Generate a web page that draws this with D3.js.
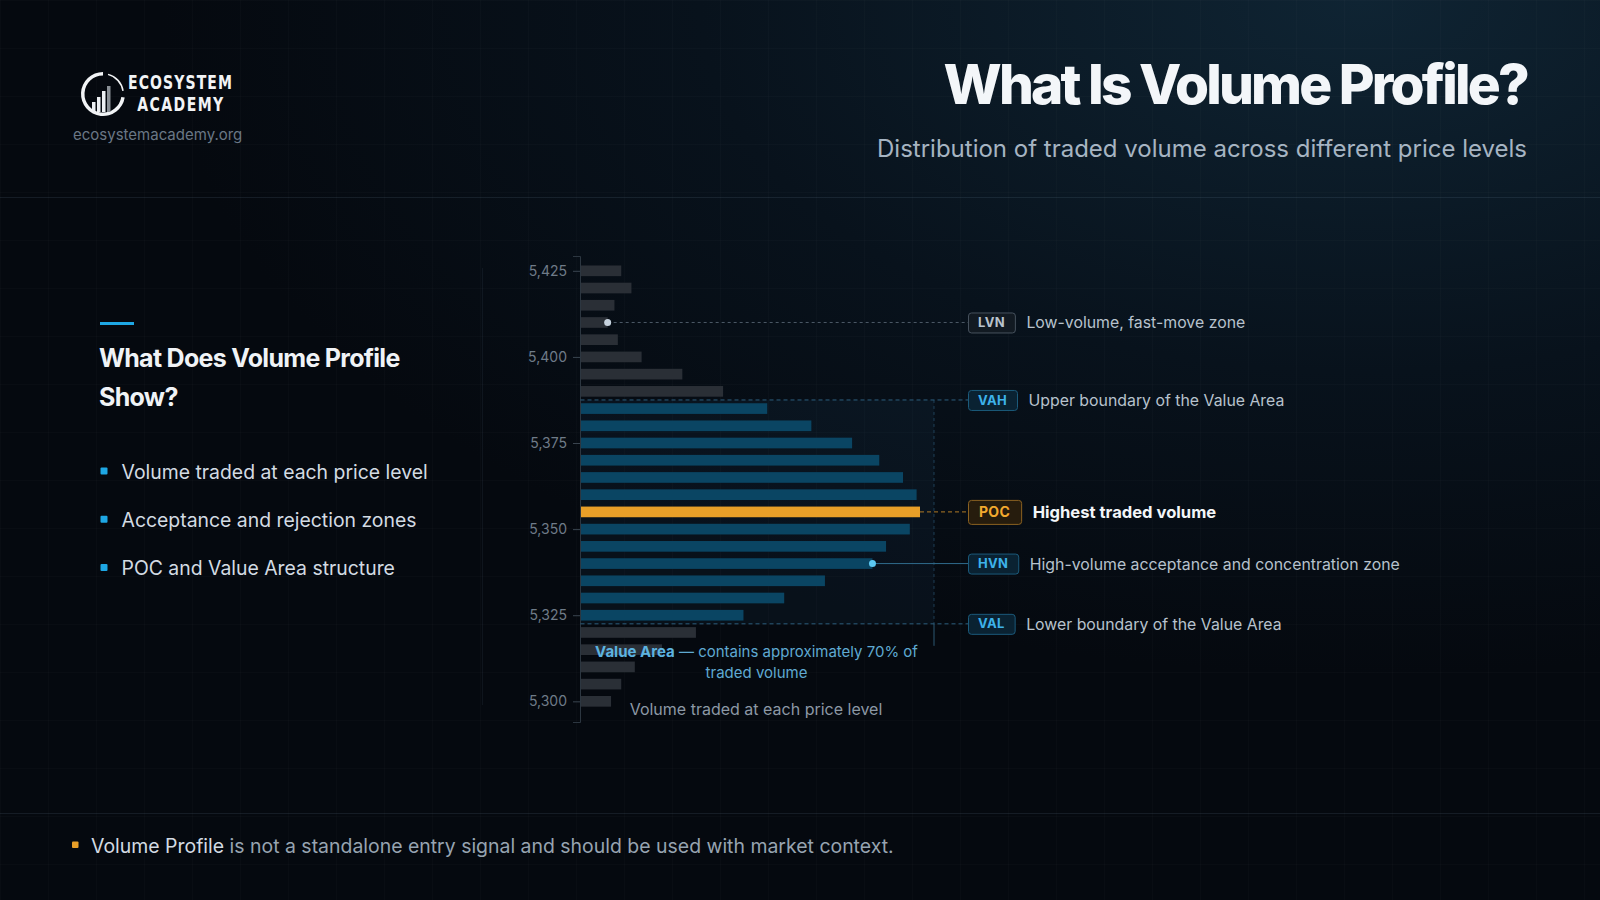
<!DOCTYPE html>
<html>
<head>
<meta charset="utf-8">
<script src="https://cdn.jsdelivr.net/npm/d3@7"></script>
<style>
    html, body { margin: 0; padding: 0; background: #05090f; }
    svg { display: block; font-family: Inter, "Noto Sans", sans-serif; }
</style>
</head>
<body>
<script>
//page size
var w = 1600, h = 900;

//price levels (top to bottom) and volume traded at each one
var prices = [5425, 5420, 5415, 5410, 5405, 5400, 5395, 5390, 5385, 5380, 5375, 5370, 5365,
    5360, 5355, 5350, 5345, 5340, 5335, 5330, 5325, 5320, 5315, 5310, 5305, 5300];
var volumes = [12, 15, 10, 8, 11, 18, 30, 42, 55, 68, 80, 88, 95,
    99, 100, 97, 90, 86, 72, 60, 48, 34, 24, 16, 12, 9];

//axis tick values
var priceTicks = [5300, 5325, 5350, 5375, 5400, 5425];

//value area bounds (low, high), point of control and node levels
var valueArea = [5322.5, 5387.5];
var pocPrice = 5355;
var hvnPrice = 5340;
var lvnPrice = 5410;

//callout codes, levels and descriptions
var calloutCodes = ["LVN", "VAH", "POC", "HVN", "VAL"];
var calloutPrices = [lvnPrice, valueArea[1], pocPrice, hvnPrice, valueArea[0]];
var calloutTexts = [
    "Low-volume, fast-move zone",
    "Upper boundary of the Value Area",
    "Highest traded volume",
    "High-volume acceptance and concentration zone",
    "Lower boundary of the Value Area"
];

//left panel texts
var panelTitle = ["What Does Volume Profile", "Show?"];
var panelBullets = ["Volume traded at each price level", "Acceptance and rejection zones", "POC and Value Area structure"];

//svg container
var container = d3.select("body")
    .append("svg")
    .attr("width", w)
    .attr("height", h)
    .attr("class", "container");

var defs = container.append("defs");

//soft blue glow at the top right
var glow = defs.append("radialGradient")
    .attr("id", "glow")
    .attr("cx", "0.85")
    .attr("cy", "0")
    .attr("r", "0.75");
glow.append("stop").attr("offset", "0%").attr("stop-color", "#0f2433");
glow.append("stop").attr("offset", "55%").attr("stop-color", "#08121c");
glow.append("stop").attr("offset", "100%").attr("stop-color", "#05090f");

//faint grid
var grid = defs.append("pattern")
    .attr("id", "grid")
    .attr("width", 48)
    .attr("height", 48)
    .attr("patternUnits", "userSpaceOnUse");
grid.append("path")
    .attr("d", "M48 0 L0 0 L0 48")
    .attr("fill", "none")
    .attr("stroke", "rgba(255,255,255,0.03)")
    .attr("stroke-width", 1);

container.append("rect")
    .attr("width", w)
    .attr("height", h)
    .attr("fill", "url(#glow)");

container.append("rect")
    .attr("width", w)
    .attr("height", h)
    .attr("fill", "url(#grid)");

//separator lines
container.selectAll(".sepLine")
    .data([197.5, 813.5])
    .enter()
    .append("line")
    .attr("class", "sepLine")
    .attr("x1", 0)
    .attr("x2", w)
    .attr("y1", function(d){ return d; })
    .attr("y2", function(d){ return d; })
    .attr("stroke", "rgba(140,170,200,0.12)");

//vertical divider between panel and chart
container.append("line")
    .attr("x1", 482.5)
    .attr("x2", 482.5)
    .attr("y1", 268)
    .attr("y2", 705)
    .attr("stroke", "rgba(140,170,200,0.08)");

/////////////////////////////LOGO
var logo = container.append("g")
    .attr("class", "logo");

var ring = d3.arc()
    .innerRadius(18.5)
    .outerRadius(22)
    .startAngle(Math.PI * 0.55)
    .endAngle(Math.PI * 2);

logo.append("path")
    .attr("transform", "translate(103,94)")
    .attr("d", ring())
    .attr("fill", "#f2f4f6");

logo.append("path")
    .attr("transform", "translate(103,94)")
    .attr("d", d3.arc().innerRadius(19.5).outerRadius(21).startAngle(Math.PI * 0.08).endAngle(Math.PI * 0.45)())
    .attr("fill", "#f2f4f6");

logo.selectAll(".logoBar")
    .data([10, 15, 21, 26])
    .enter()
    .append("rect")
    .attr("class", "logoBar")
    .attr("x", function(d, i){ return 92 + i * 5; })
    .attr("y", function(d){ return 112 - d; })
    .attr("width", 3.5)
    .attr("height", function(d){ return d; })
    .attr("fill", function(d, i){ return i == 3 ? "#8a9096" : "#eef1f4"; });

//condensed wordmark: squeeze a bold face horizontally, spread the letters
var squeeze = 0.72;

logo.append("text")
    .attr("transform", "translate(128,89.3) scale(" + squeeze + ",1)")
    .attr("textLength", 104 / squeeze)
    .attr("lengthAdjust", "spacing")
    .style("font-family", "'DejaVu Sans', sans-serif")
    .style("font-weight", 700)
    .style("font-size", "19.5px")
    .attr("fill", "#f2f4f6")
    .text("ECOSYSTEM");

logo.append("text")
    .attr("transform", "translate(137.3,110.7) scale(" + squeeze + ",1)")
    .attr("textLength", 86 / squeeze)
    .attr("lengthAdjust", "spacing")
    .style("font-family", "'DejaVu Sans', sans-serif")
    .style("font-weight", 700)
    .style("font-size", "19.5px")
    .attr("fill", "#f2f4f6")
    .text("ACADEMY");

logo.append("text")
    .attr("x", 73)
    .attr("y", 140)
    .style("font-size", "15px")
    .attr("fill", "#6a7785")
    .text("ecosystemacademy.org");

/////////////////////////////TITLE
var title = container.append("text")
    .attr("class", "title")
    .attr("text-anchor", "end")
    .attr("x", 1527)
    .attr("y", 104)
    .style("font-size", "55px")
    .style("font-weight", 800)
    .style("letter-spacing", "-2.8px")
    .attr("fill", "#f3f6f9")
    .text("What Is Volume Profile?");

var subtitle = container.append("text")
    .attr("class", "subtitle")
    .attr("text-anchor", "end")
    .attr("x", 1527)
    .attr("y", 157)
    .style("font-size", "24px")
    .attr("fill", "#a6b4c2")
    .text("Distribution of traded volume across different price levels");

/////////////////////////////LEFT PANEL
container.append("rect")
    .attr("x", 100)
    .attr("y", 322)
    .attr("width", 34)
    .attr("height", 3)
    .attr("fill", "#1ea7e4");

container.selectAll(".panelTitle")
    .data(panelTitle)
    .enter()
    .append("text")
    .attr("class", "panelTitle")
    .attr("x", 99)
    .attr("y", function(d, i){ return 367 + i * 38.5; })
    .style("font-size", "25px")
    .style("font-weight", 700)
    .style("letter-spacing", "-0.7px")
    .attr("fill", "#f0f3f6")
    .text(function(d){ return d; });

var bullets = container.selectAll(".bullet")
    .data(panelBullets)
    .enter()
    .append("g")
    .attr("class", "bullet")
    .attr("transform", function(d, i){ return "translate(0," + (479 + i * 48.2) + ")"; });

bullets.append("rect")
    .attr("x", 100.5)
    .attr("y", -11.5)
    .attr("width", 7)
    .attr("height", 7)
    .attr("rx", 1)
    .attr("fill", "#1ea7e4");

bullets.append("text")
    .attr("x", 121.5)
    .style("font-size", "19.4px")
    .attr("fill", "#d3dbe3")
    .text(function(d){ return d; });

/////////////////////////////CHART
//price scale (vertical)
var y = d3.scaleLinear()
    .domain([5294, 5429.3])
    .range([722, 256]);

//volume scale (horizontal)
var x = d3.scaleLinear()
    .domain([0, 100])
    .range([580.5, 920]);

var step = Math.abs(y(prices[0]) - y(prices[1]));
var barH = step * 0.62;

//value area band
var vaRight = x(d3.max(volumes)) + 14;

container.append("rect")
    .attr("class", "vaBand")
    .attr("x", x(0))
    .attr("y", y(valueArea[1]))
    .attr("width", vaRight - x(0))
    .attr("height", y(valueArea[0]) - y(valueArea[1]))
    .attr("fill", "rgba(40,90,130,0.10)");

container.append("line")
    .attr("x1", vaRight)
    .attr("x2", vaRight)
    .attr("y1", y(valueArea[1]))
    .attr("y2", y(valueArea[0]))
    .attr("stroke", "rgba(60,120,160,0.45)")
    .attr("stroke-dasharray", "3,3");

container.append("line")
    .attr("x1", vaRight)
    .attr("x2", vaRight)
    .attr("y1", y(valueArea[0]))
    .attr("y2", y(valueArea[0]) + 22)
    .attr("stroke", "rgba(70,140,180,0.6)");

//bars
var bars = container.selectAll(".bars")
    .data(prices)
    .enter()
    .append("rect")
    .attr("class", "bars")
    .attr("x", x(0))
    .attr("y", function(d){ return y(d) - barH / 2; })
    .attr("width", function(d, i){ return x(volumes[i]) - x(0); })
    .attr("height", barH)
    .style("fill", function(d){
        if (d == pocPrice) return "#e89f28";
        if (d >= valueArea[0] && d <= valueArea[1]) return "#0a4563";
        return "#2a2f36";
    });

//y axis
var yAxis = d3.axisLeft(y)
    .tickValues(priceTicks)
    .tickFormat(d3.format(","))
    .tickSize(7)
    .tickPadding(6);

var axis = container.append("g")
    .attr("class", "axis")
    .attr("transform", "translate(" + (x(0) - 0.5) + ",0)")
    .call(yAxis);

axis.select(".domain")
    .attr("stroke", "#2c3640");

axis.selectAll(".tick line")
    .attr("stroke", "#3a4550");

axis.selectAll(".tick text")
    .attr("fill", "#6f7b88")
    .style("font-size", "14px")
    .style("font-family", "Inter, sans-serif");

//callouts
var boxX = 968;

function volumeAt(p){
    return volumes[prices.indexOf(p)];
}

var leaders = container.selectAll(".leader")
    .data(calloutCodes)
    .enter()
    .append("line")
    .attr("class", "leader")
    .attr("x1", function(d, i){
        if (d == "VAH" || d == "VAL") return x(0);
        return x(volumeAt(calloutPrices[i]));
    })
    .attr("x2", boxX)
    .attr("y1", function(d, i){ return y(calloutPrices[i]); })
    .attr("y2", function(d, i){ return y(calloutPrices[i]); })
    .attr("stroke", function(d){
        if (d == "LVN") return "#4d5a67";
        if (d == "POC") return "#b07a26";
        if (d == "HVN") return "#2f6b8c";
        return "#2c5f7e";
    })
    .attr("stroke-dasharray", function(d){
        if (d == "HVN") return null;
        return d == "LVN" ? "3,3" : "4,3";
    });

//node dots
container.append("circle")
    .attr("cx", x(volumeAt(lvnPrice)))
    .attr("cy", y(lvnPrice))
    .attr("r", 3.5)
    .attr("fill", "#c6d2de");

container.append("circle")
    .attr("cx", x(volumeAt(hvnPrice)))
    .attr("cy", y(hvnPrice))
    .attr("r", 3.5)
    .attr("fill", "#5cc8f2");

var callouts = container.selectAll(".callout")
    .data(calloutCodes)
    .enter()
    .append("g")
    .attr("class", "callout")
    .attr("transform", function(d, i){ return "translate(" + boxX + "," + y(calloutPrices[i]) + ")"; });

var badgeText = callouts.append("text")
    .attr("class", "badgeText")
    .attr("y", 4.6)
    .style("font-size", function(d){ return d == "POC" ? "14px" : "13px"; })
    .style("font-weight", 700)
    .style("letter-spacing", "0.3px")
    .attr("fill", function(d){
        if (d == "LVN") return "#b9c3cd";
        if (d == "POC") return "#f2a92e";
        return "#3db2ea";
    })
    .text(function(d){ return d; });

callouts.each(function(d, i){
    var g = d3.select(this);
    var t = g.select(".badgeText");
    var tw = t.node().getComputedTextLength();
    var pad = d == "POC" ? 11 : 10;
    var bh = d == "POC" ? 24 : 20;
    var bw = tw + pad * 2;
    t.attr("x", pad);
    g.insert("rect", ".badgeText")
        .attr("x", 0.5)
        .attr("y", -bh / 2 + 0.5)
        .attr("width", bw)
        .attr("height", bh)
        .attr("rx", 3)
        .attr("fill", d == "LVN" ? "#121a22" : (d == "POC" ? "#261c0d" : "#0a2232"))
        .attr("stroke", d == "LVN" ? "#46515d" : (d == "POC" ? "#8a6121" : "#1b5a7b"));
    g.append("text")
        .attr("x", bw + 11.5)
        .attr("y", 6)
        .style("font-size", d == "POC" ? "16.6px" : "15.85px")
        .style("font-weight", d == "POC" ? 700 : 400)
        .attr("fill", d == "POC" ? "#f3f6f9" : "#b7c2cd")
        .text(calloutTexts[i]);
});

//value area note
var vaNote = container.append("text")
    .attr("text-anchor", "middle")
    .attr("x", 756.5)
    .attr("y", 656.5)
    .style("font-size", "15px")
    .attr("fill", "#5fa9d2");

vaNote.append("tspan")
    .style("font-weight", 700)
    .attr("fill", "#5cb3e0")
    .text("Value Area");

vaNote.append("tspan")
    .text(" \u2014 contains approximately 70% of");

container.append("text")
    .attr("text-anchor", "middle")
    .attr("x", 756.5)
    .attr("y", 677.5)
    .style("font-size", "15px")
    .attr("fill", "#5fa9d2")
    .text("traded volume");

//x caption
container.append("text")
    .attr("text-anchor", "middle")
    .attr("x", 756)
    .attr("y", 715)
    .style("font-size", "16px")
    .attr("fill", "#8c98a5")
    .text("Volume traded at each price level");

/////////////////////////////FOOTNOTE
container.append("rect")
    .attr("x", 72)
    .attr("y", 841.5)
    .attr("width", 6.5)
    .attr("height", 6.5)
    .attr("rx", 1)
    .attr("fill", "#e89f28");

var note = container.append("text")
    .attr("x", 91)
    .attr("y", 853)
    .style("font-size", "19.45px")
    .attr("fill", "#97a4b1");

note.append("tspan")
    .attr("fill", "#d3dbe3")
    .text("Volume Profile");

note.append("tspan")
    .text(" is not a standalone entry signal and should be used with market context.");
</script>
</body>
</html>
